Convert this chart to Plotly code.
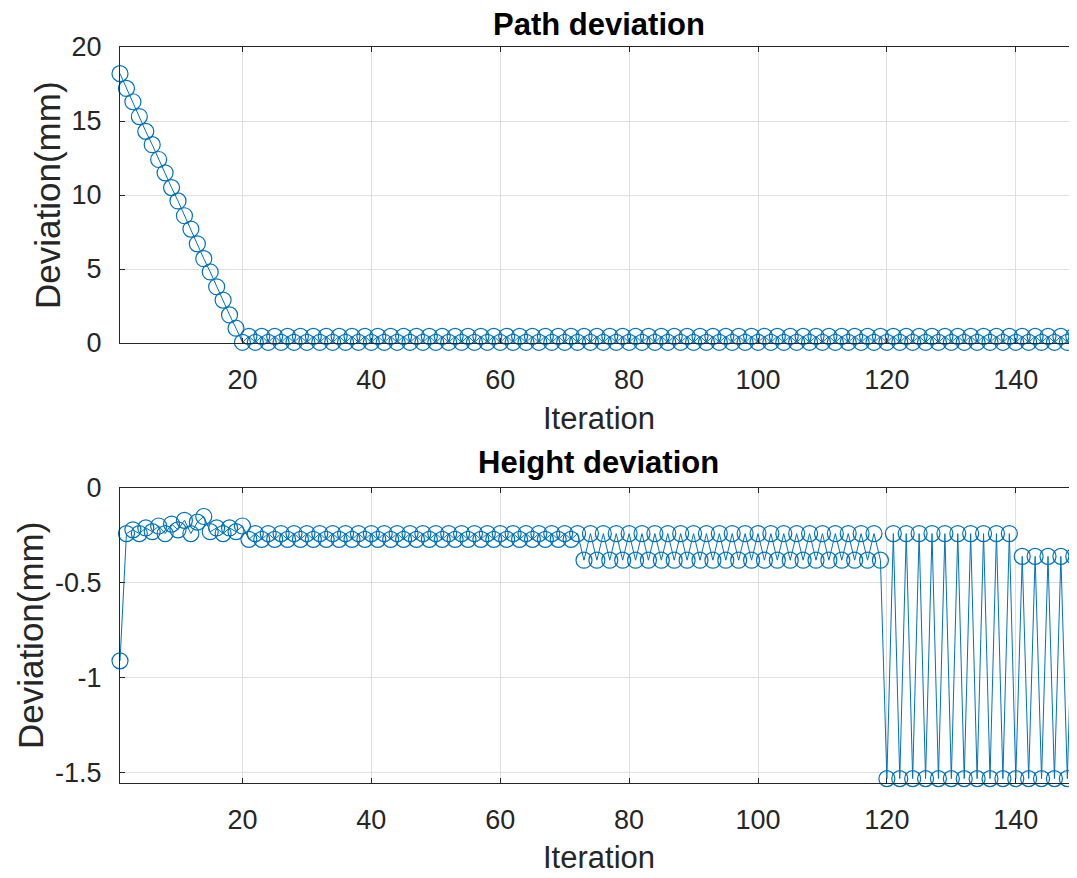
import plotly.graph_objects as go

# ---------------- data ----------------
iterations = list(range(1, 151))

path_deviation = [
    18.2, 17.2, 16.3, 15.3, 14.3, 13.4, 12.4, 11.5, 10.5, 9.6,
    8.6, 7.7, 6.7, 5.7, 4.8, 3.8, 2.9, 1.9, 1.0, 0.05,
    0.45, 0.05, 0.45, 0.05, 0.45, 0.05, 0.45, 0.05, 0.45, 0.05,
    0.45, 0.05, 0.45, 0.05, 0.45, 0.05, 0.45, 0.05, 0.45, 0.05,
    0.45, 0.05, 0.45, 0.05, 0.45, 0.05, 0.45, 0.05, 0.45, 0.05,
    0.45, 0.05, 0.45, 0.05, 0.45, 0.05, 0.45, 0.05, 0.45, 0.05,
    0.45, 0.05, 0.45, 0.05, 0.45, 0.05, 0.45, 0.05, 0.45, 0.05,
    0.45, 0.05, 0.45, 0.05, 0.45, 0.05, 0.45, 0.05, 0.45, 0.05,
    0.45, 0.05, 0.45, 0.05, 0.45, 0.05, 0.45, 0.05, 0.45, 0.05,
    0.45, 0.05, 0.45, 0.05, 0.45, 0.05, 0.45, 0.05, 0.45, 0.05,
    0.45, 0.05, 0.45, 0.05, 0.45, 0.05, 0.45, 0.05, 0.45, 0.05,
    0.45, 0.05, 0.45, 0.05, 0.45, 0.05, 0.45, 0.05, 0.45, 0.05,
    0.45, 0.05, 0.45, 0.05, 0.45, 0.05, 0.45, 0.05, 0.45, 0.05,
    0.45, 0.05, 0.45, 0.05, 0.45, 0.05, 0.45, 0.05, 0.45, 0.05,
    0.45, 0.05, 0.45, 0.05, 0.45, 0.05, 0.45, 0.05, 0.45, 0.05,
]

height_deviation = [
    -0.91, -0.24, -0.22, -0.24, -0.21, -0.23, -0.20, -0.24, -0.19, -0.22,
    -0.17, -0.24, -0.18, -0.15, -0.23, -0.21, -0.24, -0.21, -0.23, -0.20,
    -0.27, -0.24, -0.27, -0.24, -0.27, -0.24, -0.27, -0.24, -0.27, -0.24,
    -0.27, -0.24, -0.27, -0.24, -0.27, -0.24, -0.27, -0.24, -0.27, -0.24,
    -0.27, -0.24, -0.27, -0.24, -0.27, -0.24, -0.27, -0.24, -0.27, -0.24,
    -0.27, -0.24, -0.27, -0.24, -0.27, -0.24, -0.27, -0.24, -0.27, -0.24,
    -0.27, -0.24, -0.27, -0.24, -0.27, -0.24, -0.27, -0.24, -0.27, -0.24,
    -0.27, -0.24, -0.38, -0.24, -0.38, -0.24, -0.38, -0.24, -0.38, -0.24,
    -0.38, -0.24, -0.38, -0.24, -0.38, -0.24, -0.38, -0.24, -0.38, -0.24,
    -0.38, -0.24, -0.38, -0.24, -0.38, -0.24, -0.38, -0.24, -0.38, -0.24,
    -0.38, -0.24, -0.38, -0.24, -0.38, -0.24, -0.38, -0.24, -0.38, -0.24,
    -0.38, -0.24, -0.38, -0.24, -0.38, -0.24, -0.38, -0.24, -0.38, -1.53,
    -0.24, -1.53, -0.24, -1.53, -0.24, -1.53, -0.24, -1.53, -0.24, -1.53,
    -0.24, -1.53, -0.24, -1.53, -0.24, -1.53, -0.24, -1.53, -0.24, -1.53,
    -0.36, -1.53, -0.36, -1.53, -0.36, -1.53, -0.36, -1.53, -0.36, -1.53,
]

x_ticks = [20, 40, 60, 80, 100, 120, 140]
path_y_ticks = [0, 5, 10, 15, 20]
height_y_ticks = [0, -0.5, -1, -1.5]
height_y_tick_labels = ["0", "-0.5", "-1", "-1.5"]

titles = ["Path deviation", "Height deviation"]
x_label = "Iteration"
y_label = "Deviation(mm)"

# ---------------- style ----------------
BLUE = "#0072BD"
AX = "#262626"
GRID = "#dfdfdf"
FONT = "Liberation Sans, Arial, Helvetica, sans-serif"
TICK_SIZE = 27
XLABEL_SIZE = 31
YLABEL_SIZE = 35
TITLE_SIZE = 31

trace_style = dict(
    mode="lines+markers",
    line=dict(color=BLUE, width=1),
    marker=dict(symbol="circle-open", size=16, color=BLUE, line=dict(width=1.2, color=BLUE)),
    cliponaxis=False,
    showlegend=False,
    hoverinfo="x+y",
)

fig = go.Figure()
fig.add_trace(go.Scatter(x=iterations, y=path_deviation, xaxis="x", yaxis="y", **trace_style))
fig.add_trace(go.Scatter(x=iterations, y=height_deviation, xaxis="x2", yaxis="y2", **trace_style))

common_x = dict(
    range=[1, 149.5], tickvals=x_ticks, ticks="inside", ticklen=5, tickcolor=AX,
    showline=True, linecolor=AX, linewidth=1.2, mirror="ticks",
    showgrid=True, gridcolor=GRID, gridwidth=1, zeroline=False,
    tickfont=dict(family=FONT, size=TICK_SIZE, color=AX), ticklabelstandoff=12,
)
common_y = dict(
    ticks="inside", ticklen=5, tickcolor=AX,
    showline=True, linecolor=AX, linewidth=1.2, mirror=False,
    showgrid=True, gridcolor=GRID, gridwidth=1, zeroline=False,
    tickfont=dict(family=FONT, size=TICK_SIZE, color=AX), ticklabelstandoff=12,
)

# page body has an 8px margin: the figure is offset by (8, 8)
fig.update_layout(
    width=1069, height=870,
    margin=dict(l=112, r=0, t=39, b=95),
    paper_bgcolor="white", plot_bgcolor="white",
    xaxis=dict(domain=[0, 1], anchor="y", **common_x),
    yaxis=dict(domain=[0.5978, 1], anchor="x", range=[0, 20], tickvals=path_y_ticks, **common_y),
    xaxis2=dict(domain=[0, 1], anchor="y2", **common_x),
    yaxis2=dict(domain=[0, 0.4008], anchor="x2", range=[-1.553, 0], tickvals=height_y_ticks,
                ticktext=height_y_tick_labels, **common_y),
)

ann = []
# titles
ann.append(dict(text="<b>" + titles[0] + "</b>", x=0.5, y=1.031, xref="paper", yref="paper",
                xanchor="center", yanchor="middle", showarrow=False,
                font=dict(family=FONT, size=TITLE_SIZE, color="black")))
ann.append(dict(text="<b>" + titles[1] + "</b>", x=0.5, y=0.436, xref="paper", yref="paper",
                xanchor="center", yanchor="middle", showarrow=False,
                font=dict(family=FONT, size=TITLE_SIZE, color="black")))
# x labels
ann.append(dict(text=x_label, x=0.5, y=0.4946, xref="paper", yref="paper",
                xanchor="center", yanchor="middle", showarrow=False,
                font=dict(family=FONT, size=XLABEL_SIZE, color=AX)))
ann.append(dict(text=x_label, x=0.5, y=-0.1019, xref="paper", yref="paper",
                xanchor="center", yanchor="middle", showarrow=False,
                font=dict(family=FONT, size=XLABEL_SIZE, color=AX)))
# y labels
ann.append(dict(text=y_label, x=-0.0752, y=0.799, xref="paper", yref="paper",
                xanchor="center", yanchor="middle", showarrow=False, textangle=-90,
                font=dict(family=FONT, size=YLABEL_SIZE, color=AX)))
ann.append(dict(text=y_label, x=-0.094, y=0.201, xref="paper", yref="paper",
                xanchor="center", yanchor="middle", showarrow=False, textangle=-90,
                font=dict(family=FONT, size=YLABEL_SIZE, color=AX)))
fig.update_layout(annotations=ann)

fig.write_html("out.html")
